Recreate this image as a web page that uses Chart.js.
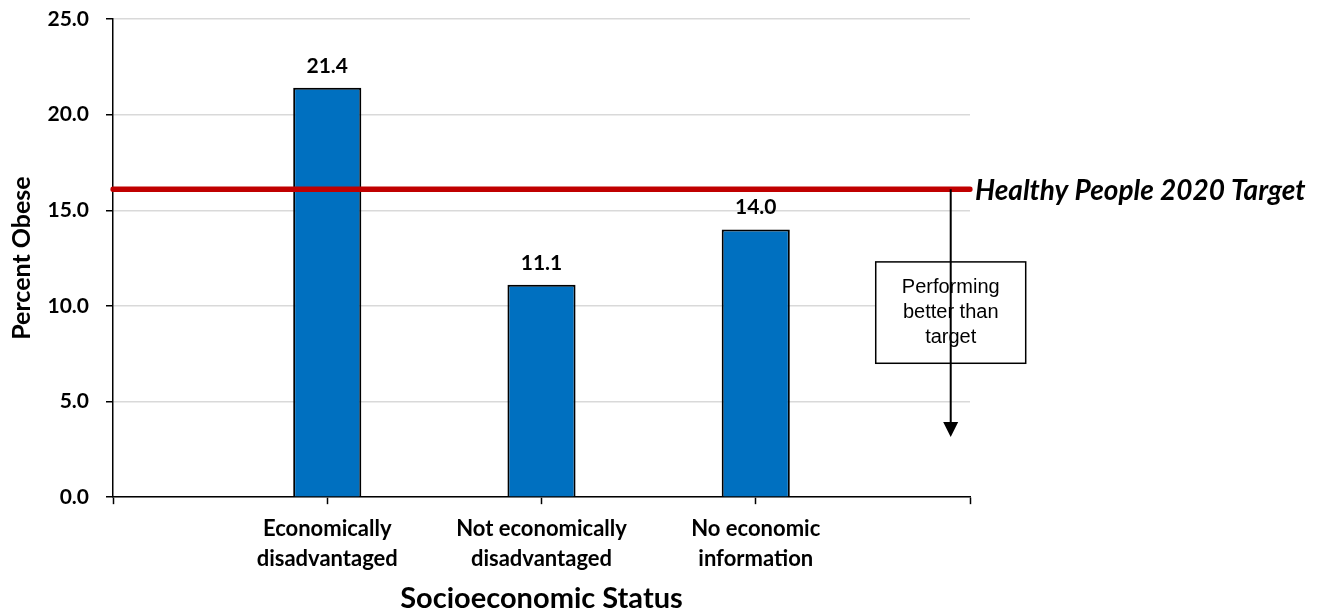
<!DOCTYPE html>
<html>
<head>
<meta charset="utf-8">
<script src="https://cdn.jsdelivr.net/npm/chart.js@4.4.1/dist/chart.umd.min.js"></script>
<style>
  html, body { margin: 0; padding: 0; background: #fff; }
  #wrap { width: 1330px; height: 613px; position: relative; }
</style>
</head>
<body>
<div id="wrap"><canvas id="chart"></canvas></div>
<script>
// data
const categories = ['', ['Economically', 'disadvantaged'], ['Not economically', 'disadvantaged'], ['No economic', 'information'], ''];
const percentObese = [null, 21.4, 11.1, 14.0, null];
const targetValue = 16.1;
const yTicks = [0, 5, 10, 15, 20, 25];
const targetLabel = 'Healthy People 2020 Target';
const noteLines = ['Performing', 'better than', 'target'];

const CAL = 'Lato, "Open Sans", sans-serif';

// value labels above the bars
const valueLabels = {
    id: 'valueLabels',
    afterDatasetsDraw(chart) {
        const ctx = chart.ctx;
        const meta = chart.getDatasetMeta(1);
        ctx.save();
        ctx.font = 'bold 21px ' + CAL;
        ctx.fillStyle = '#000';
        ctx.textAlign = 'center';
        ctx.textBaseline = 'middle';
        meta.data.forEach((el, i) => {
            const v = percentObese[i];
            if (v == null) return;
            ctx.fillText(v.toFixed(1), el.x, el.y - 22);
        });
        ctx.restore();
    }
};

// target label, note box and arrow
const targetNote = {
    id: 'targetNote',
    afterDraw(chart) {
        const ctx = chart.ctx;
        const x = chart.scales.x, y = chart.scales.y;
        const yT = y.getPixelForValue(targetValue);
        ctx.save();
        ctx.font = 'italic bold 28px ' + CAL;
        ctx.fillStyle = '#000';
        ctx.textAlign = 'left';
        ctx.textBaseline = 'middle';
        ctx.fillText(targetLabel, x.right + 5, yT + 2);

        // box
        const bx0 = x.getPixelForValue(3.56), bx1 = x.getPixelForValue(4.26);
        const by0 = y.getPixelForValue(12.3), by1 = y.getPixelForValue(7.0);
        ctx.fillStyle = '#fff';
        ctx.fillRect(bx0, by0, bx1 - bx0, by1 - by0);
        ctx.strokeStyle = '#000';
        ctx.lineWidth = 1.5;
        ctx.strokeRect(bx0, by0, bx1 - bx0, by1 - by0);
        ctx.font = '20px "Liberation Sans", Arial, sans-serif';
        ctx.fillStyle = '#000';
        ctx.textAlign = 'center';
        const cx = (bx0 + bx1) / 2, cy = (by0 + by1) / 2;
        noteLines.forEach((t, i) => ctx.fillText(t, cx, cy + (i - 1) * 25));

        // arrow
        const ax = x.getPixelForValue(3.91);
        const ayEnd = y.getPixelForValue(3.15);
        ctx.beginPath();
        ctx.moveTo(ax, yT);
        ctx.lineTo(ax, ayEnd - 12);
        ctx.lineWidth = 2;
        ctx.stroke();
        ctx.beginPath();
        ctx.moveTo(ax - 7.5, ayEnd - 15);
        ctx.lineTo(ax + 7.5, ayEnd - 15);
        ctx.lineTo(ax, ayEnd);
        ctx.closePath();
        ctx.fill();
        ctx.restore();
    }
};

new Chart(document.getElementById('chart'), {
    type: 'bar',
    data: {
        labels: categories,
        datasets: [{
            type: 'line',
            label: 'Target',
            data: categories.map(() => targetValue),
            borderColor: '#C00000',
            borderWidth: 5.5,
            borderCapStyle: 'round',
            pointRadius: 0,
            order: 0
        }, {
            label: 'Percent Obese',
            data: percentObese,
            backgroundColor: '#0070C0',
            borderColor: '#000',
            borderWidth: 2,
            categoryPercentage: 1,
            barPercentage: 0.318,
            order: 1
        }]
    },
    options: {
        responsive: true,
        maintainAspectRatio: false,
        animation: false,
        layout: { padding: { top: 0, right: 360, left: 5, bottom: 0 } },
        plugins: {
            legend: { display: false },
            tooltip: { enabled: false }
        },
        scales: {
            x: {
                offset: false,
                grid: { display: true, offset: false, drawOnChartArea: false, tickLength: 7, tickColor: '#000', tickWidth: 1.5 },
                border: { color: '#000', width: 1.5 },
                ticks: { color: '#000', font: { family: CAL, weight: 'bold', size: 22, lineHeight: 1.36 }, maxRotation: 0, autoSkip: false, padding: 10 },
                title: { display: true, text: 'Socioeconomic Status', color: '#000', font: { family: CAL, weight: 'bold', size: 29, lineHeight: 1.0 }, padding: { top: 0, bottom: 0 } }
            },
            y: {
                min: yTicks[0],
                max: yTicks[yTicks.length - 1],
                afterBuildTicks: (s) => { s.ticks = yTicks.map(v => ({ value: v })); },
                afterFit: (s) => { s.width = 108; s.paddingTop = 19; },
                grid: { color: '#d9d9d9', lineWidth: 1.5, tickLength: 7, tickColor: '#000', tickWidth: 1.5 },
                border: { color: '#000', width: 1.5 },
                ticks: { color: '#000', font: { family: CAL, weight: 'bold', size: 21 }, padding: 17, callback: (v) => Number(v).toFixed(1) },
                title: { display: true, text: 'Percent Obese', color: '#000', font: { family: CAL, weight: 'bold', size: 25 }, padding: { top: 2, bottom: 4 } }
            }
        }
    },
    plugins: [valueLabels, targetNote]
});
</script>
</body>
</html>
